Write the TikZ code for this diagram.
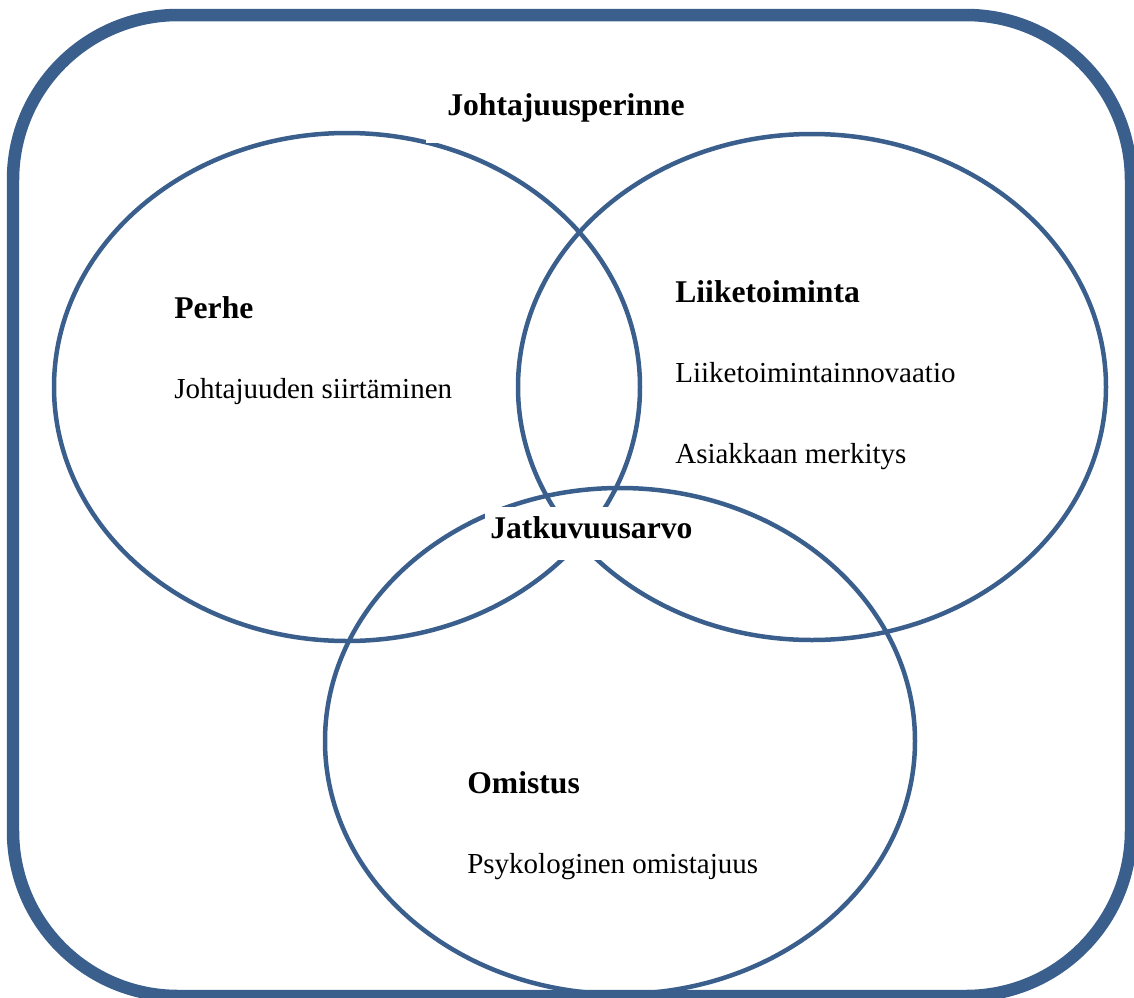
\documentclass[tikz,border=0pt]{standalone}
\usepackage{fontspec}
\setmainfont{Liberation Serif}
\definecolor{kehys}{RGB}{58,95,140}
\tikzset{
  otsikko/.style={anchor=base west,inner sep=0pt,font=\fontsize{18}{20}\selectfont\bfseries},
  teksti/.style={anchor=base west,inner sep=0pt,font=\fontsize{16.5}{19}\selectfont},
  peite/.style={otsikko,fill=white},
}
\begin{document}
\begin{tikzpicture}[x=0.02cm,y=-0.02cm,line join=round,line cap=round]
\useasboundingbox (0,0) rectangle (1134,998);
% kehys
\draw[kehys,line width=0.25cm,rounded corners=3.3cm] (13,15) rectangle (1131,996);
% ympyrat
\foreach \x/\y/\a/\b in {347/387/293/254,812/387/294/253,620/741/295/253}
  \draw[kehys,line width=0.09cm] (\x,\y) ellipse ({\a*0.02cm} and {\b*0.02cm});
% otsikot
\node[peite,inner xsep=0.42cm,inner ysep=0.16cm,text depth=0.4cm] (perinne) at (426,115) {Johtajuusperinne};
\node[peite,inner xsep=0.1cm,inner ysep=0.08cm,text height=0.54cm,text depth=0.36cm] (jatkuvuus) at (485,538) {Jatkuvuusarvo};
\foreach \x/\y/\n/\g in {174/318/perhe/Perhe,675/302/liike/Liiketoiminta,467/793/omistus/Omistus}
  \node[otsikko] (\n) at (\x,\y) {\g};
\foreach \x/\y/\n/\g in {174/398/siirto/Johtajuuden siirtäminen,675/382/innovaatio/Liiketoimintainnovaatio,675/463/asiakas/Asiakkaan merkitys,467/873/psyko/Psykologinen omistajuus}
  \node[teksti] (\n) at (\x,\y) {\g};
\end{tikzpicture}
\end{document}
